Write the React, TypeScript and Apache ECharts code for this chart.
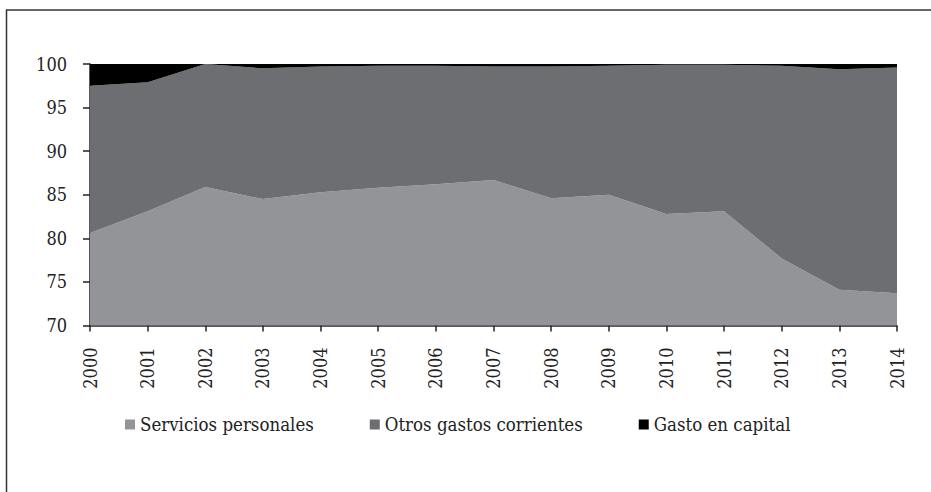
import React, { useEffect, useRef } from "react";
import * as echarts from "echarts";

const years = ["2000","2001","2002","2003","2004","2005","2006","2007","2008","2009","2010","2011","2012","2013","2014"];
const serviciosPersonales = [80.6, 83.1, 85.9, 84.5, 85.3, 85.8, 86.2, 86.7, 84.6, 85.0, 82.8, 83.1, 77.7, 74.1, 73.7];
const otrosGastosCorrientes = [16.9, 14.8, 14.1, 15.0, 14.4, 14.0, 13.6, 13.0, 15.1, 14.8, 17.1, 16.8, 22.1, 25.3, 25.9];
const gastoEnCapital = [2.5, 2.1, 0.0, 0.5, 0.3, 0.2, 0.2, 0.3, 0.3, 0.2, 0.1, 0.1, 0.2, 0.6, 0.4];
const seriesNames = ["Servicios personales", "Otros gastos corrientes", "Gasto en capital"];
const yMin = 70;
const yMax = 100;
const yInterval = 5;

const FONT = "DejaVu Serif Condensed";
const colors = ["#939498", "#6d6e72", "#000000"];

export default function App() {
  const ref = useRef<HTMLDivElement>(null);
  useEffect(() => {
    if (!ref.current) return;
    const chart = echarts.init(ref.current, undefined, { renderer: "svg" });
    const dataSets = [serviciosPersonales, otrosGastosCorrientes, gastoEnCapital];
    chart.setOption({
      animation: false,
      backgroundColor: "#ffffff",
      textStyle: { fontFamily: FONT },
      grid: { left: 90, right: 34, top: 64, bottom: 166.5, containLabel: false },
      legend: {
        left: 120,
        top: 410,
        itemWidth: 10,
        itemHeight: 10,
        itemGap: 56,
        icon: "rect",
        textStyle: { fontFamily: FONT, fontSize: 18.5, color: "#222" },
        data: seriesNames,
      },
      xAxis: {
        type: "category",
        data: years,
        boundaryGap: false,
        axisLine: { lineStyle: { color: "#222", width: 1.5 } },
        axisTick: { show: true, length: 6, alignWithLabel: true, lineStyle: { color: "#222", width: 1.5 } },
        axisLabel: { rotate: 90, margin: 22, fontFamily: FONT, fontSize: 18, color: "#222", interval: 0 },
        splitLine: { show: false },
      },
      yAxis: {
        type: "value",
        min: yMin,
        max: yMax,
        interval: yInterval,
        axisLine: { show: true, lineStyle: { color: "#222", width: 1.5 } },
        axisTick: { show: true, length: 7, lineStyle: { color: "#222", width: 1.5 } },
        axisLabel: { margin: 23, fontFamily: FONT, fontSize: 18, color: "#222" },
        splitLine: { show: false },
      },
      graphic: [
        { type: "line", shape: { x1: 6.5, y1: 10, x2: 6.5, y2: 492 }, style: { stroke: "#333", lineWidth: 1.5 } },
        { type: "line", shape: { x1: 6, y1: 10, x2: 931, y2: 10 }, style: { stroke: "#333", lineWidth: 1.5 } },
      ],
      series: seriesNames.map((name, i) => ({
        name,
        type: "line",
        stack: "total",
        data: dataSets[i],
        showSymbol: false,
        symbol: "none",
        lineStyle: { width: 0 },
        itemStyle: { color: colors[i] },
        areaStyle: { color: colors[i], opacity: 1 },
        z: 1,
      })),
    });
    return () => chart.dispose();
  }, []);
  return (
    <div
      ref={ref}
      style={{ position: "fixed", left: 0, top: 0, width: 931, height: 492 }}
    />
  );
}
